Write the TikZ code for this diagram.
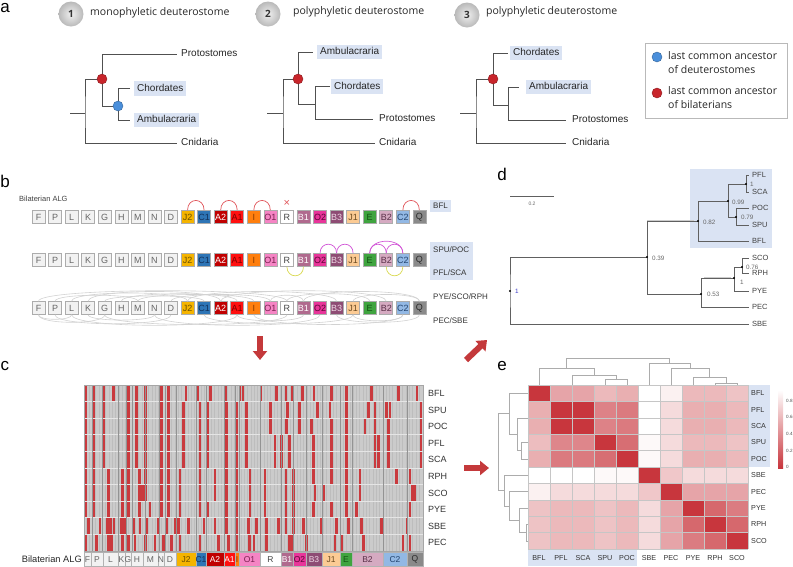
\documentclass[tikz,border=0pt]{standalone}
\usepackage{fontspec}
\setmainfont{Liberation Sans}
\newfontfamily\titlefont{Open Sans}
\usetikzlibrary{arrows.meta}
\definecolor{hlblue}{HTML}{DAE3F3}
\definecolor{treeline}{HTML}{505050}
\definecolor{nodered}{HTML}{C8252B}
\definecolor{nodeblue}{HTML}{4A8FDB}
\definecolor{hmred}{HTML}{C8363D}
\definecolor{barred}{HTML}{C93A3E}
\definecolor{arrred}{HTML}{C4393B}
\definecolor{cJtwo}{HTML}{F5B400}
\definecolor{cCone}{HTML}{2E75B6}
\definecolor{cAtwo}{HTML}{C00000}
\definecolor{cAone}{HTML}{FF1010}
\definecolor{cI}{HTML}{FF7F0E}
\definecolor{cOone}{HTML}{F584C4}
\definecolor{cBone}{HTML}{B06A8E}
\definecolor{cOtwo}{HTML}{E8359A}
\definecolor{cBthree}{HTML}{8E4C74}
\definecolor{cJone}{HTML}{FCCB94}
\definecolor{cE}{HTML}{3FA43F}
\definecolor{cBtwo}{HTML}{D5AAC1}
\definecolor{cCtwo}{HTML}{92B8E4}
\definecolor{cQ}{HTML}{8A8A8A}
\definecolor{cLight}{HTML}{F2F2F2}
\definecolor{txg}{HTML}{666666}
\definecolor{txr}{HTML}{444444}
\definecolor{tJtwo}{HTML}{6A4E00}
\definecolor{tCone}{HTML}{12305A}
\definecolor{tAone}{HTML}{7A0000}
\definecolor{tI}{HTML}{8A3A00}
\definecolor{tOone}{HTML}{7A2050}
\definecolor{tOtwo}{HTML}{5A0535}
\definecolor{tBthree}{HTML}{F0D8E6}
\definecolor{tJone}{HTML}{6A4A20}
\definecolor{tE}{HTML}{145214}
\definecolor{tBtwo}{HTML}{5A3048}
\definecolor{tCtwo}{HTML}{24456F}
\definecolor{tQ}{HTML}{2A2A2A}
\definecolor{arcmag}{HTML}{D155D6}
\definecolor{arcyel}{HTML}{D8D84E}
\definecolor{arcred}{HTML}{E0555A}
\definecolor{hmbg}{HTML}{CBCBCB}
\begin{document}
\begin{tikzpicture}[x=1pt,y=-1pt,
  every node/.style={inner sep=0pt},
  tree/.style={draw=treeline, line width=0.8pt},
  tlab/.style={anchor=west, font=\fontsize{10}{12}\selectfont, text=black!85, text height=7.3pt, text depth=2pt},
  hl/.style={fill=hlblue, inner xsep=3pt, inner ysep=2.6pt},
  rdot/.style={circle, fill=nodered, draw=nodered!70!black, line width=0.4pt, minimum size=10pt},
  bdot/.style={circle, fill=nodeblue, draw=nodeblue!70!black, line width=0.4pt, minimum size=10pt},
  numc/.style={circle, minimum size=25pt, shade, shading=radial, inner color=gray!12, outer color=gray!55, font=\titlefont\bfseries\fontsize{10}{12}\selectfont, text=black!80},
  ttl/.style={anchor=west, font=\titlefont\fontsize{10.5}{12}\selectfont, text=black!85},
  letter/.style={font=\fontsize{17}{18}\selectfont},
  albox/.style={draw=gray!65, line width=0.6pt, minimum size=13pt, font=\fontsize{9}{9}\selectfont},
  blab/.style={anchor=west, font=\fontsize{8}{9}\selectfont, text=black!80},
  arcR/.style={draw=arcred, line width=0.7pt},
  arcM/.style={draw=arcmag, line width=0.7pt},
  arcY/.style={draw=arcyel, line width=0.7pt},
  arcG/.style={draw=gray!35, line width=0.6pt},
  dline/.style={draw=gray!75!black, line width=0.6pt},
  dthick/.style={draw=gray!40, line width=1.6pt},
  ddot/.style={circle, fill=black, minimum size=2.4pt},
  dlab/.style={anchor=west, font=\fontsize{7.5}{8}\selectfont, text=black!75},
  dnum/.style={anchor=west, font=\fontsize{6.3}{7}\selectfont, text=black!60},
  clab/.style={anchor=west, font=\fontsize{9}{10}\selectfont, text=black!80},
  seglab/.style={font=\fontsize{8.5}{9}\selectfont},
  colline/.style={draw=gray!52, line width=0.3pt},
  rowsep/.style={draw=white!80!gray, line width=0.9pt},
  algline/.style={draw=gray!85, line width=0.5pt},
  elab/.style={font=\fontsize{7.2}{8}\selectfont, text=black!80},
  cellline/.style={draw=gray!45, line width=0.4pt},
  dendro/.style={draw=gray!65, line width=0.6pt},
  bigarrow/.style={draw=arrred, line width=6pt, -{Triangle[width=14pt,length=9pt]}}
]
\useasboundingbox (0,0) rectangle (793,566);

% ================= panel a =================
\node[letter] (la) at (5,8) {a};
\node[numc] (n1) at (71,14) {1};
\node[ttl] (tt1) at (90,13) {monophyletic deuterostome};
\node[numc] (n2) at (268,14) {2};
\node[ttl] (tt2) at (293,12) {polyphyletic deuterostome};
\node[numc] (n3) at (467,15) {3};
\node[ttl] (tt3) at (486,12) {polyphyletic deuterostome};

% tree 1
\node[tlab] (t1p) at (181,54) {Protostomes};
\node[tlab] (t1n) at (181,143) {Cnidaria};
\node[tlab,hl] (t1c) at (134,88.5) {Chordates};
\node[tlab,hl] (t1a) at (134,120) {Ambulacraria};
\coordinate (t1o) at (70,113); \coordinate (t1k) at (85,113);
\coordinate (t1rc) at (102,79); \coordinate (t1bc) at (118,106);
\draw[tree] (t1o) -- (t1k);
\draw[tree] (t1rc) -| (t1k) |- ([xshift=-4pt]t1n.west);
\draw[tree] (t1rc) |- ([xshift=-4pt]t1p.west);
\draw[tree] (t1rc) |- (t1bc);
\draw[tree] (t1bc) |- ([xshift=-4pt]t1c.west);
\draw[tree] (t1bc) |- ([xshift=-4pt]t1a.west);
\node[rdot] (t1r) at (t1rc) {};
\node[bdot] (t1b) at (t1bc) {};

% tree 2
\node[tlab,hl] (t2a) at (317,52) {Ambulacraria};
\node[tlab,hl] (t2c) at (331,86.5) {Chordates};
\node[tlab] (t2p) at (379,119) {Protostomes};
\node[tlab] (t2n) at (379,143) {Cnidaria};
\coordinate (t2o) at (267,113); \coordinate (t2k) at (283,113);
\coordinate (t2rc) at (298,79); \coordinate (t2i) at (315,104);
\draw[tree] (t2o) -- (t2k);
\draw[tree] (t2rc) -| (t2k) |- ([xshift=-4pt]t2n.west);
\draw[tree] (t2rc) |- ([xshift=-4pt]t2a.west);
\draw[tree] (t2rc) |- (t2i);
\draw[tree] (t2i) |- ([xshift=-1pt]t2c.west);
\draw[tree] (t2i) |- ([xshift=-6pt]t2p.west);
\node[rdot] (t2r) at (t2rc) {};

% tree 3
\node[tlab,hl] (t3c) at (510,53) {Chordates};
\node[tlab,hl] (t3a) at (526,87) {Ambulacraria};
\node[tlab] (t3p) at (572,120) {Protostomes};
\node[tlab] (t3n) at (572,143) {Cnidaria};
\coordinate (t3o) at (460,113); \coordinate (t3k) at (476,113);
\coordinate (t3rc) at (493,79); \coordinate (t3i) at (508,105);
\draw[tree] (t3o) -- (t3k);
\draw[tree] (t3rc) -| (t3k) |- ([xshift=-6pt]t3n.west);
\draw[tree] (t3rc) |- ([xshift=-2pt]t3c.west);
\draw[tree] (t3rc) |- (t3i);
\draw[tree] (t3i) |- ([xshift=-7pt]t3a.west);
\draw[tree] (t3i) |- ([xshift=-6pt]t3p.west);
\node[rdot] (t3r) at (t3rc) {};

% legend
\node[draw=gray!55, line width=0.6pt, minimum width=142pt, minimum height=75pt, anchor=north west] (leg) at (645,43) {};
\node[bdot] (legb) at (657,57) {};
\node[rdot] (legr) at (657,93) {};
\node[anchor=west, align=left, font=\titlefont\fontsize{10.5}{14}\selectfont, text=black!85] (legbt) at (668,63) {last common ancestor\\of deuterostomes};
\node[anchor=west, align=left, font=\titlefont\fontsize{10.5}{14}\selectfont, text=black!85] (legrt) at (668,98) {last common ancestor\\of bilaterians};

% ================= panel b =================
\node[letter] (lb) at (5,181) {b};
\node[anchor=west, font=\fontsize{7.5}{9}\selectfont, text=black!75] (balg) at (19,199) {Bilaterian ALG};
\foreach \lab/\fc/\tc [count=\i] in {F/cLight/txg,P/cLight/txg,L/cLight/txg,K/cLight/txg,G/cLight/txg,H/cLight/txg,M/cLight/txg,N/cLight/txg,D/cLight/txg,J2/cJtwo/tJtwo,C1/cCone/tCone,A2/cAtwo/white,A1/cAone/tAone,I/cI/tI,O1/cOone/tOone,R/white/txr,B1/cBone/white,O2/cOtwo/tOtwo,B3/cBthree/tBthree,J1/cJone/tJone,E/cE/tE,B2/cBtwo/tBtwo,C2/cCtwo/tCtwo,Q/cQ/tQ}{
  \foreach \r/\yy in {1/217,2/260,3/308}{
    \node[albox, fill=\fc, text=\tc] (b\r-\i) at ({38.5+(\i-1)*16.56},\yy) {\lab};
  }
}
% row 1 arcs
\foreach \a/\b in {10/11,12/13,14/15,23/24}
  \draw[arcR] (b1-\a.north) .. controls +(0,-13) and +(0,-13) .. (b1-\b.north);
\node[text=arcred, font=\fontsize{11}{11}\selectfont] (xR) at ([yshift=6.5pt]b1-16.north) {×};
% row 2 arcs
\foreach \a/\b/\h in {18/19/12,19/20/12,21/22/12,22/23/12,21/23/16}
  \draw[arcM] (b2-\a.north) .. controls +(0,-\h) and +(0,-\h) .. (b2-\b.north);
\foreach \a/\b in {16/17,22/23}
  \draw[arcY] (b2-\a.south) .. controls +(0,12) and +(0,12) .. (b2-\b.south);
% row 3 arcs
\foreach \a/\b/\h in {1/16/14,3/10/11,4/12/13,2/7/8,6/13/10,9/15/9,10/19/13,12/22/14,15/17/8,17/24/13,16/21/10,20/24/9,7/14/9,5/11/7}
  \draw[arcG] (b3-\a.north) .. controls +(0,-\h) and +(0,-\h) .. (b3-\b.north);
\foreach \a/\b/\h in {1/5/10,2/9/12,3/13/14,5/16/13,8/18/14,11/20/12,14/23/13,19/24/10,20/23/8,4/8/7,13/17/8,1/3/6}
  \draw[arcG] (b3-\a.south) .. controls +(0,\h) and +(0,\h) .. (b3-\b.south);
% row labels
\node[blab, fill=hlblue, inner xsep=3pt, inner ysep=3pt] (bl1) at (430,206) {BFL};
\node[fill=hlblue, minimum width=43pt, minimum height=38pt, anchor=north west] (bl2box) at (430,242) {};
\node[blab] (bl2a) at (433,250) {SPU/POC};
\node[blab] (bl2b) at (433,273) {PFL/SCA};
\node[blab] (bl3a) at (433,297) {PYE/SCO/RPH};
\node[blab] (bl3b) at (433,321) {PEC/SBE};

% ================= panel d =================
\node[letter] (ld) at (502,174) {d};
\coordinate (sb1) at (510,196); \coordinate (sb2) at (554,196);
\draw[dline] (sb1) -- (sb2);
\node[font=\fontsize{5}{6}\selectfont, text=black!60] (sbl) at (532,204) {0.2};
\fill[hlblue] (690,169) rectangle (772,248);
\node[dlab] (dPFL) at (752,175) {PFL};
\node[dlab] (dSCA) at (752,192) {SCA};
\node[dlab] (dPOC) at (752,208) {POC};
\node[dlab] (dSPU) at (752,225) {SPU};
\node[dlab] (dBFL) at (752,241) {BFL};
\node[dlab] (dSCO) at (752,258) {SCO};
\node[dlab] (dRPH) at (752,273) {RPH};
\node[dlab] (dPYE) at (752,291) {PYE};
\node[dlab] (dPEC) at (752,307) {PEC};
\node[dlab] (dSBE) at (752,324) {SBE};
\coordinate (d0) at (510,291);
\coordinate (d39) at (647,257);
\coordinate (d39t) at (647,221);
\coordinate (d82) at (698,221);
\coordinate (d99) at (728,201);
\coordinate (d1a) at (746,184);
\coordinate (d79) at (736,217);
\coordinate (d53) at (701,294);
\coordinate (d1b) at (734,278);
\coordinate (d76) at (742,267);
\draw[dthick] (d39t) -- ([xshift=-4pt]d82);
\draw[dthick] ([xshift=3pt]d53 |- d1b) -- ([xshift=-3pt]d1b);
\draw[dline] (d39) -| (d0) |- ([xshift=-3pt]dSBE.west);
\draw[dline] (d39) |- (d82);
\draw[dline] (d39) |- (d53);
\draw[dline] (d82) |- (d99);
\draw[dline] (d82) |- ([xshift=-3pt]dBFL.west);
\draw[dline] (d99) |- (d1a);
\draw[dline] (d99) |- (d79);
\draw[dline] (d1a) |- ([xshift=-3pt]dPFL.west);
\draw[dline] (d1a) |- ([xshift=-3pt]dSCA.west);
\draw[dline] (d79) |- ([xshift=-3pt]dPOC.west);
\draw[dline] (d79) |- ([xshift=-3pt]dSPU.west);
\draw[dline] (d53) |- (d1b);
\draw[dline] (d53) |- ([xshift=-3pt]dPEC.west);
\draw[dline] (d1b) |- (d76);
\draw[dline] (d1b) |- ([xshift=-3pt]dPYE.west);
\draw[dline] (d76) |- ([xshift=-3pt]dSCO.west);
\draw[dline] (d76) |- ([xshift=-3pt]dRPH.west);
\foreach \p in {d0,d39,d82,d99,d1a,d79,d53,d1b,d76} \node[ddot] at (\p) {};
\node[dnum, text=blue!55!gray] (l0) at (515,291) {1};
\node[dnum] (l39) at (652,258) {0.39};
\node[dnum] (l82) at (703,222) {0.82};
\node[dnum] (l99) at (732,202) {0.99};
\node[dnum] (l1a) at (750,184) {1};
\node[dnum] (l79) at (741,217) {0.79};
\node[dnum] (l53) at (707,294) {0.53};
\node[dnum] (l1b) at (740,282) {1};
\node[dnum] (l76) at (746,267) {0.76};

% ================= arrows =================
\coordinate (ar1a) at (260,336); \coordinate (ar1b) at (260,360);
\draw[bigarrow] (ar1a) -- (ar1b);
\coordinate (ar2a) at (466,360); \coordinate (ar2b) at (487,340);
\draw[bigarrow] (ar2a) -- (ar2b);
\coordinate (ar3a) at (464,468); \coordinate (ar3b) at (489,468);
\draw[bigarrow] (ar3a) -- (ar3b);

% ================= panel c =================
\node[letter] (lc) at (5,366) {c};
\fill[hmbg] (84,385) rectangle (423,551);
\foreach \x in {85.7,89,...,422} \draw[colline] (\x,385) -- (\x,551);
\foreach \lst [count=\r] in {
 {258,280,312,340,385,410,437,485,505,558,592,632,677,720,729,783,830,858,878,908,942,995,1040,1115,1196,1251},
 {258,280,312,385,410,437,485,505,550,600,622,680,710,740,812,862,898,953,990,1040,1105,1125,1160,1170,1263},
 {258,280,312,385,410,437,485,505,550,600,622,680,710,740,812,860,898,935,995,1040,1095,1125,1165,1263},
 {258,280,312,385,410,437,485,505,550,600,622,680,710,740,825,845,868,940,995,1040,1125,1135,1165,1263},
 {258,280,312,385,410,437,485,505,550,600,622,680,710,740,825,845,868,940,995,1040,1125,1135,1165,1263},
 {258,280,325,368,385,418,437,485,505,540,600,645,680,710,750,795,858,880,940,995,1040,1080,1190,1230},
 {258,280,325,368,385,418,428,437,485,505,540,600,645,680,710,750,795,858,880,945,970,1040,1080,1236,1243},
 {258,280,325,368,385,418,450,485,505,540,600,622,680,710,750,795,858,880,940,995,1040,1070,1230},
 {265,300,322,332,342,365,372,378,400,420,440,475,500,527,535,565,612,645,680,710,745,770,800,835,858,880,910,965,1010,1045,1085,1145,1221},
 {258,290,325,335,368,385,405,437,465,490,515,540,600,655,685,710,748,762,800,868,878,920,1005,1025,1090,1209,1230}}{
  \foreach \x in \lst {
    \fill[barred] ({\x/3-1.4},{385+(\r-1)*16.6+0.5}) rectangle ({\x/3+1.4},{385+\r*16.6-0.5});
  }
}
\foreach \k in {1,...,9} \draw[rowsep] (84,{385+\k*16.6}) -- (423,{385+\k*16.6});
\foreach \x in {92,102,118,126,132,145,159,165,176,196,206,224,235,239,260,281,293,306,322,340,352,383,407}
  \draw[algline] (\x,385) -- (\x,551);
\draw[gray!70, line width=0.4pt] (84,385) rectangle (423,551);
\foreach \lab [count=\k] in {BFL,SPU,POC,PFL,SCA,RPH,SCO,PYE,SBE,PEC}
  \node[clab] (cr\k) at (428,{385+(\k-0.5)*16.6}) {\lab};
\node[anchor=east, font=\fontsize{9.3}{10}\selectfont, text=black!85] (calg) at (82,559) {Bilaterian ALG};
\foreach \lab/\xa/\xb/\fc/\tc [count=\i] in {F/84/91/cLight/txg,P/91/103/cLight/txg,L/103/118/cLight/txg,K/118/125/cLight/txg,G/125/131/cLight/txg,H/131/143/cLight/txg,M/143/158/cLight/txg,N/158/164/cLight/txg,D/164/176/cLight/txg,J2/176/196/cJtwo/tJtwo,C1/196/206/cCone/tCone,A2/206/224/cAtwo/white,A1/224/235/cAone/white,I/235/239/cI/tI,O1/239/260/cOone/tOone,R/260/281/white/txr,B1/281/293/cBone/white,O2/293/306/cOtwo/tOtwo,B3/306/322/cBthree/tBthree,J1/322/340/cJone/tJone,E/340/352/cE/tE,B2/352/383/cBtwo/tBtwo,C2/383/407/cCtwo/tCtwo,Q/407/423/cQ/tQ}{
  \draw[fill=\fc, draw=gray!60, line width=0.4pt] (\xa,552) rectangle (\xb,566);
  \node[seglab, text=\tc] (s\i) at ({(\xa+\xb)/2},559.5) {\lab};
}

% ================= panel e =================
\node[letter] (le) at (502,366) {e};
\fill[hlblue] (528,550) rectangle (637,566);
\fill[hlblue] (748,385) rectangle (770,467);
\foreach \vals [count=\r] in {
 {100,45,45,35,40,0,7,35,35,30},
 {40,100,100,62,66,0,18,40,40,35},
 {40,100,100,62,66,0,18,40,40,35},
 {33,60,60,100,72,3,18,35,35,30},
 {40,66,66,72,100,3,18,40,40,35},
 {0,0,0,3,3,100,28,18,18,18},
 {7,18,18,18,18,28,100,45,45,45},
 {30,35,35,30,35,18,45,100,75,65},
 {30,35,35,30,35,18,45,75,100,75},
 {30,35,35,30,35,18,45,65,75,100}}{
  \foreach \v [count=\c] in \vals {
    \fill[hmred!\v!white] ({528+(\c-1)*22},{385+(\r-1)*16.4}) rectangle ({528+\c*22},{385+\r*16.4});
  }
}
\foreach \k in {0,...,10} {
  \draw[cellline] ({528+\k*22},385) -- ({528+\k*22},549);
  \draw[cellline] (528,{385+\k*16.4}) -- (748,{385+\k*16.4});
}
\foreach \lab [count=\k] in {BFL,PFL,SCA,SPU,POC,SBE,PEC,PYE,RPH,SCO}{
  \node[elab] (ec\k) at ({528+(\k-0.5)*22},558) {\lab};
  \node[elab, anchor=west] (er\k) at (751,{385+(\k-0.5)*16.4}) {\lab};
}
% top dendrogram
\draw[dendro] (539,385) -- (539,368) -- (594,368);
\draw[dendro] (572,385) -- (572,375) -- (616,375);
\draw[dendro] (605,385) -- (605,379) -- (627,379) -- (627,385);
\draw[dendro] (616,379) -- (616,375);
\draw[dendro] (594,375) -- (594,368);
\draw[dendro] (566.5,368) -- (566.5,358) -- (669.5,358) -- (669.5,363);
\draw[dendro] (715,385) -- (715,383) -- (737,383) -- (737,385);
\draw[dendro] (726,383) -- (726,377);
\draw[dendro] (693,385) -- (693,377) -- (726,377);
\draw[dendro] (709.5,377) -- (709.5,368);
\draw[dendro] (671,385) -- (671,368) -- (709.5,368);
\draw[dendro] (690,368) -- (690,363);
\draw[dendro] (649,385) -- (649,363) -- (690,363);
% left dendrogram
\draw[dendro] (528,393.2) -- (509.3,393.2) -- (509.3,434.1);
\draw[dendro] (528,417.8) -- (517,417.8) -- (517,450.6);
\draw[dendro] (528,442.4) -- (521.4,442.4) -- (521.4,458.8) -- (528,458.8);
\draw[dendro] (521.4,450.6) -- (517,450.6);
\draw[dendro] (517,434.2) -- (509.3,434.2);
\draw[dendro] (509.3,413.7) -- (498.3,413.7) -- (498.3,490.2) -- (503.8,490.2);
\draw[dendro] (528,524.4) -- (525.8,524.4) -- (525.8,540.8) -- (528,540.8);
\draw[dendro] (525.8,532.6) -- (519.2,532.6);
\draw[dendro] (528,508) -- (519.2,508) -- (519.2,532.6);
\draw[dendro] (519.2,520.3) -- (509.3,520.3);
\draw[dendro] (528,491.6) -- (509.3,491.6) -- (509.3,520.3);
\draw[dendro] (509.3,506) -- (503.8,506);
\draw[dendro] (528,475.2) -- (503.8,475.2) -- (503.8,506);
% colour bar
\shade[top color=white, bottom color=hmred] (778,390) rectangle (783,468);
\foreach \t/\yy [count=\k] in {0.8/401,0.6/417,0.4/434,0.2/451,0/467}
  \node[anchor=west, font=\fontsize{4.6}{5}\selectfont, text=black!70] (cb\k) at (786,\yy) {\t};
\end{tikzpicture}
\end{document}
